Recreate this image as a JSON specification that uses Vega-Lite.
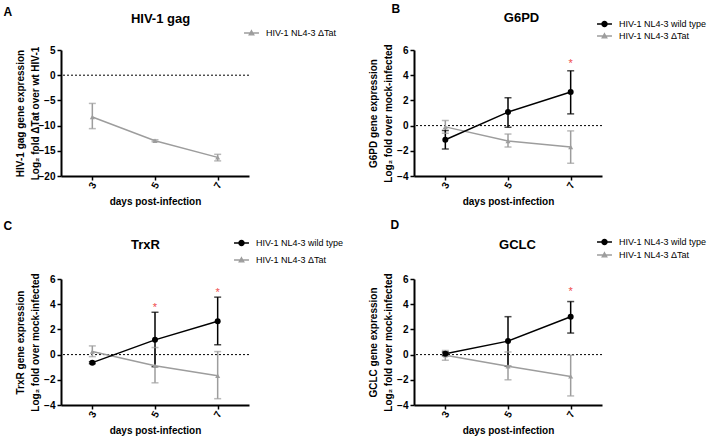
{
  "$schema": "https://vega.github.io/schema/vega-lite/v6.json",
  "background": "white",
  "padding": {"left": 3, "top": 2, "right": 5, "bottom": 5},
  "config": {
    "font": "Liberation Sans",
    "view": {"stroke": null},
    "axis": {"domainColor": "black", "domainWidth": 2, "tickColor": "black", "tickWidth": 1.5, "tickSize": 4, "labelColor": "black", "labelFontWeight": "bold", "labelFontSize": 10, "titleColor": "black", "titleFontWeight": "bold", "titleFontSize": 10, "grid": false},
    "legend": {"labelColor": "black", "labelFontSize": 9}
  },
  "datasets": {
    "d": [
      {"panel": "A", "series": "HIV-1 NL4-3 ΔTat", "day": "3", "mean": -8.3, "lo": -10.6, "hi": -5.6},
      {"panel": "A", "series": "HIV-1 NL4-3 ΔTat", "day": "5", "mean": -13.0, "lo": -13.2, "hi": -12.8},
      {"panel": "A", "series": "HIV-1 NL4-3 ΔTat", "day": "7", "mean": -16.3, "lo": -17.0, "hi": -15.7},
      {"panel": "B", "series": "HIV-1 NL4-3 ΔTat", "day": "3", "mean": -0.1, "lo": -0.6, "hi": 0.4},
      {"panel": "B", "series": "HIV-1 NL4-3 ΔTat", "day": "5", "mean": -1.22, "lo": -1.7, "hi": -0.67},
      {"panel": "B", "series": "HIV-1 NL4-3 ΔTat", "day": "7", "mean": -1.7, "lo": -2.99, "hi": -0.42},
      {"panel": "B", "series": "HIV-1 NL4-3 wild type", "day": "3", "mean": -1.12, "lo": -1.85, "hi": -0.38},
      {"panel": "B", "series": "HIV-1 NL4-3 wild type", "day": "5", "mean": 1.07, "lo": -0.13, "hi": 2.21},
      {"panel": "B", "series": "HIV-1 NL4-3 wild type", "day": "7", "mean": 2.67, "lo": 0.93, "hi": 4.35, "star": 5.15},
      {"panel": "C", "series": "HIV-1 NL4-3 ΔTat", "day": "3", "mean": 0.24, "lo": -0.16, "hi": 0.69},
      {"panel": "C", "series": "HIV-1 NL4-3 ΔTat", "day": "5", "mean": -0.88, "lo": -2.24, "hi": 0.56},
      {"panel": "C", "series": "HIV-1 NL4-3 ΔTat", "day": "7", "mean": -1.68, "lo": -3.5, "hi": 0.24},
      {"panel": "C", "series": "HIV-1 NL4-3 wild type", "day": "3", "mean": -0.64, "lo": -0.72, "hi": -0.56},
      {"panel": "C", "series": "HIV-1 NL4-3 wild type", "day": "5", "mean": 1.17, "lo": -0.96, "hi": 3.36, "star": 3.97},
      {"panel": "C", "series": "HIV-1 NL4-3 wild type", "day": "7", "mean": 2.64, "lo": 0.78, "hi": 4.56, "star": 5.15},
      {"panel": "D", "series": "HIV-1 NL4-3 ΔTat", "day": "3", "mean": -0.05, "lo": -0.45, "hi": 0.32},
      {"panel": "D", "series": "HIV-1 NL4-3 ΔTat", "day": "5", "mean": -0.93, "lo": -2.0, "hi": 0.21},
      {"panel": "D", "series": "HIV-1 NL4-3 ΔTat", "day": "7", "mean": -1.73, "lo": -3.28, "hi": -0.05},
      {"panel": "D", "series": "HIV-1 NL4-3 wild type", "day": "3", "mean": 0.07, "lo": -0.1, "hi": 0.2},
      {"panel": "D", "series": "HIV-1 NL4-3 wild type", "day": "5", "mean": 1.07, "lo": -0.93, "hi": 3.01},
      {"panel": "D", "series": "HIV-1 NL4-3 wild type", "day": "7", "mean": 3.0, "lo": 1.71, "hi": 4.21, "star": 5.2}
    ]
  },
  "columns": 2,
  "spacing": {"row": 103, "column": 165},
  "bounds": "flush",
  "resolve": {"scale": {"fill": "independent", "stroke": "independent", "shape": "independent", "color": "independent"}, "legend": {"fill": "independent", "stroke": "independent", "shape": "independent", "color": "independent"}},
  "concat": [
    {
      "width": 188, "height": 126,
      "data": {"name": "d"},
      "transform": [{"filter": "datum.panel == 'A'"}],
      "resolve": {"axis": {"x": "independent", "y": "independent"}},
      "layer": [
        {"transform": [{"aggregate": [{"op": "count", "as": "n"}]}],
         "mark": {"type": "rule", "color": "black", "strokeWidth": 1, "strokeDash": [2, 2]},
         "encoding": {"y": {"datum": 0, "type": "quantitative", "scale": {"domain": [-20, 5], "nice": false, "zero": false}, "axis": null}}},
        {"mark": {"type": "rule", "strokeWidth": 1.5},
         "encoding": {"x": {"field": "day", "type": "ordinal", "scale": {"type": "point", "padding": 0.5, "domain": ["3", "5", "7"]}, "axis": null},
                      "y": {"field": "lo", "type": "quantitative", "scale": {"domain": [-20, 5], "nice": false, "zero": false}, "axis": null}, "y2": {"field": "hi"},
                      "color": {"condition": {"test": "indexof(datum.series, 'wild') >= 0", "value": "black"}, "value": "#9d9d9d"}}},
        {"mark": {"type": "tick", "size": 7, "thickness": 1.5},
         "encoding": {"x": {"field": "day", "type": "ordinal", "scale": {"type": "point", "padding": 0.5, "domain": ["3", "5", "7"]}, "axis": null},
                      "y": {"field": "lo", "type": "quantitative", "scale": {"domain": [-20, 5], "nice": false, "zero": false}, "axis": null},
                      "color": {"condition": {"test": "indexof(datum.series, 'wild') >= 0", "value": "black"}, "value": "#9d9d9d"}}},
        {"mark": {"type": "tick", "size": 7, "thickness": 1.5},
         "encoding": {"x": {"field": "day", "type": "ordinal", "scale": {"type": "point", "padding": 0.5, "domain": ["3", "5", "7"]}, "axis": null},
                      "y": {"field": "hi", "type": "quantitative", "scale": {"domain": [-20, 5], "nice": false, "zero": false}, "axis": null},
                      "color": {"condition": {"test": "indexof(datum.series, 'wild') >= 0", "value": "black"}, "value": "#9d9d9d"}}},
        {"mark": {"type": "line", "strokeWidth": 1.5},
         "encoding": {"x": {"field": "day", "type": "ordinal", "scale": {"type": "point", "padding": 0.5, "domain": ["3", "5", "7"]},
                            "axis": {"orient": "bottom", "title": "days post-infection", "labelAngle": -60, "labelAlign": "center", "labelBaseline": "middle", "labelPadding": 5, "titleY": 25, "titleBaseline": "middle"}},
                      "y": {"field": "mean", "type": "quantitative", "scale": {"domain": [-20, 5], "nice": false, "zero": false},
                            "axis": {"orient": "left", "values": [-20, -15, -10, -5, 0, 5], "labelPadding": 2, "title": ["HIV-1 gag gene expression", "Log₂ fold ΔTat over wt HIV-1"], "titleX": -36, "titleY": 63, "titleAngle": -90, "titleAlign": "center", "titleBaseline": "bottom", "titleLineHeight": 15}},
                      "detail": {"field": "series"},
                      "color": {"condition": {"test": "indexof(datum.series, 'wild') >= 0", "value": "black"}, "value": "#9d9d9d"}}},
        {"mark": {"type": "point", "filled": true, "opacity": 1},
         "encoding": {"x": {"field": "day", "type": "ordinal", "scale": {"type": "point", "padding": 0.5, "domain": ["3", "5", "7"]}, "axis": null},
                      "y": {"field": "mean", "type": "quantitative", "scale": {"domain": [-20, 5], "nice": false, "zero": false}, "axis": null},
                      "color": {"condition": {"test": "indexof(datum.series, 'wild') >= 0", "value": "black"}, "value": "#9d9d9d"},
                      "shape": {"condition": {"test": "indexof(datum.series, 'wild') >= 0", "value": "circle"}, "value": "triangle-up"},
                      "size": {"condition": {"test": "indexof(datum.series, 'wild') >= 0", "value": 36}, "value": 25}}},
        {"mark": {"type": "point", "opacity": 0},
         "encoding": {"x": {"field": "day", "type": "ordinal", "scale": {"type": "point", "padding": 0.5, "domain": ["3", "5", "7"]},
                            "axis": {"orient": "top", "domain": false, "ticks": false, "labels": false, "title": "HIV-1 gag", "titleX": 99, "titleY": -32, "titleAlign": "center", "titleBaseline": "middle", "titleFontSize": 13}},
                      "y": {"field": "mean", "type": "quantitative", "scale": {"domain": [-20, 5], "nice": false, "zero": false},
                            "axis": {"orient": "right", "domain": false, "ticks": false, "labels": false, "title": "A", "titleAngle": 0, "titleAlign": "left", "titleBaseline": "top", "titleX": -246, "titleY": -44, "titleFontSize": 12}},
                      "fill": {"field": "series", "type": "nominal", "scale": {"domain": ["HIV-1 NL4-3 ΔTat"], "range": ["#9d9d9d"]},
                               "legend": {"orient": "none", "legendX": 184, "legendY": -23.5, "title": null, "symbolSize": 121, "symbolStrokeWidth": 1.3, "symbolOpacity": 1, "padding": 0, "rowPadding": 0, "labelOffset": 8}},
                      "stroke": {"field": "series", "type": "nominal", "scale": {"domain": ["HIV-1 NL4-3 ΔTat"], "range": ["#9d9d9d"]},
                               "legend": {"orient": "none", "legendX": 184, "legendY": -23.5, "title": null, "symbolSize": 121, "symbolStrokeWidth": 1.3, "symbolOpacity": 1, "padding": 0, "rowPadding": 0, "labelOffset": 8}},
                      "shape": {"field": "series", "type": "nominal", "scale": {"domain": ["HIV-1 NL4-3 ΔTat"], "range": ["M-1.36,0H1.36M0,-0.42L0.42,0.34L-0.42,0.34Z"]},
                               "legend": {"orient": "none", "legendX": 184, "legendY": -23.5, "title": null, "symbolSize": 121, "symbolStrokeWidth": 1.3, "symbolOpacity": 1, "padding": 0, "rowPadding": 0, "labelOffset": 8}}}}
      ]
    },
    {
      "width": 188, "height": 126,
      "data": {"name": "d"},
      "transform": [{"filter": "datum.panel == 'B'"}],
      "resolve": {"axis": {"x": "independent", "y": "independent"}},
      "layer": [
        {"transform": [{"aggregate": [{"op": "count", "as": "n"}]}],
         "mark": {"type": "rule", "color": "black", "strokeWidth": 1, "strokeDash": [2, 2]},
         "encoding": {"y": {"datum": 0, "type": "quantitative", "scale": {"domain": [-4, 6], "nice": false, "zero": false}, "axis": null}}},
        {"mark": {"type": "rule", "strokeWidth": 1.5},
         "encoding": {"x": {"field": "day", "type": "ordinal", "scale": {"type": "point", "padding": 0.5, "domain": ["3", "5", "7"]}, "axis": null},
                      "y": {"field": "lo", "type": "quantitative", "scale": {"domain": [-4, 6], "nice": false, "zero": false}, "axis": null}, "y2": {"field": "hi"},
                      "color": {"condition": {"test": "indexof(datum.series, 'wild') >= 0", "value": "black"}, "value": "#9d9d9d"}}},
        {"mark": {"type": "tick", "size": 7, "thickness": 1.5},
         "encoding": {"x": {"field": "day", "type": "ordinal", "scale": {"type": "point", "padding": 0.5, "domain": ["3", "5", "7"]}, "axis": null},
                      "y": {"field": "lo", "type": "quantitative", "scale": {"domain": [-4, 6], "nice": false, "zero": false}, "axis": null},
                      "color": {"condition": {"test": "indexof(datum.series, 'wild') >= 0", "value": "black"}, "value": "#9d9d9d"}}},
        {"mark": {"type": "tick", "size": 7, "thickness": 1.5},
         "encoding": {"x": {"field": "day", "type": "ordinal", "scale": {"type": "point", "padding": 0.5, "domain": ["3", "5", "7"]}, "axis": null},
                      "y": {"field": "hi", "type": "quantitative", "scale": {"domain": [-4, 6], "nice": false, "zero": false}, "axis": null},
                      "color": {"condition": {"test": "indexof(datum.series, 'wild') >= 0", "value": "black"}, "value": "#9d9d9d"}}},
        {"mark": {"type": "line", "strokeWidth": 1.5},
         "encoding": {"x": {"field": "day", "type": "ordinal", "scale": {"type": "point", "padding": 0.5, "domain": ["3", "5", "7"]},
                            "axis": {"orient": "bottom", "title": "days post-infection", "labelAngle": -60, "labelAlign": "center", "labelBaseline": "middle", "labelPadding": 5, "titleY": 25, "titleBaseline": "middle"}},
                      "y": {"field": "mean", "type": "quantitative", "scale": {"domain": [-4, 6], "nice": false, "zero": false},
                            "axis": {"orient": "left", "values": [-4, -2, 0, 2, 4, 6], "labelPadding": 2, "title": ["G6PD gene expression", "Log₂ fold over mock-infected"], "titleX": -36, "titleY": 63, "titleAngle": -90, "titleAlign": "center", "titleBaseline": "bottom", "titleLineHeight": 15}},
                      "detail": {"field": "series"},
                      "color": {"condition": {"test": "indexof(datum.series, 'wild') >= 0", "value": "black"}, "value": "#9d9d9d"}}},
        {"mark": {"type": "point", "filled": true, "opacity": 1},
         "encoding": {"x": {"field": "day", "type": "ordinal", "scale": {"type": "point", "padding": 0.5, "domain": ["3", "5", "7"]}, "axis": null},
                      "y": {"field": "mean", "type": "quantitative", "scale": {"domain": [-4, 6], "nice": false, "zero": false}, "axis": null},
                      "color": {"condition": {"test": "indexof(datum.series, 'wild') >= 0", "value": "black"}, "value": "#9d9d9d"},
                      "shape": {"condition": {"test": "indexof(datum.series, 'wild') >= 0", "value": "circle"}, "value": "triangle-up"},
                      "size": {"condition": {"test": "indexof(datum.series, 'wild') >= 0", "value": 36}, "value": 25}}},
        {"transform": [{"filter": "isValid(datum.star)"}],
         "mark": {"type": "text", "color": "#ef4b4b", "fontSize": 11, "baseline": "alphabetic", "dy": 6},
         "encoding": {"x": {"field": "day", "type": "ordinal", "scale": {"type": "point", "padding": 0.5, "domain": ["3", "5", "7"]}, "axis": null},
                      "y": {"field": "star", "type": "quantitative", "scale": {"domain": [-4, 6], "nice": false, "zero": false}, "axis": null},
                      "text": {"value": "*"}}},
        {"mark": {"type": "point", "opacity": 0},
         "encoding": {"x": {"field": "day", "type": "ordinal", "scale": {"type": "point", "padding": 0.5, "domain": ["3", "5", "7"]},
                            "axis": {"orient": "top", "domain": false, "ticks": false, "labels": false, "title": "G6PD", "titleX": 107, "titleY": -33, "titleAlign": "center", "titleBaseline": "middle", "titleFontSize": 13}},
                      "y": {"field": "mean", "type": "quantitative", "scale": {"domain": [-4, 6], "nice": false, "zero": false},
                            "axis": {"orient": "right", "domain": false, "ticks": false, "labels": false, "title": "B", "titleAngle": 0, "titleAlign": "left", "titleBaseline": "top", "titleX": -211, "titleY": -47, "titleFontSize": 12}},
                      "fill": {"field": "series", "type": "nominal", "scale": {"domain": ["HIV-1 NL4-3 wild type", "HIV-1 NL4-3 ΔTat"], "range": ["black", "#9d9d9d"]},
                               "legend": {"orient": "none", "legendX": 184, "legendY": -32.5, "title": null, "symbolSize": 121, "symbolStrokeWidth": 1.3, "symbolOpacity": 1, "padding": 0, "rowPadding": 0, "labelOffset": 8}},
                      "stroke": {"field": "series", "type": "nominal", "scale": {"domain": ["HIV-1 NL4-3 wild type", "HIV-1 NL4-3 ΔTat"], "range": ["black", "#9d9d9d"]},
                               "legend": {"orient": "none", "legendX": 184, "legendY": -32.5, "title": null, "symbolSize": 121, "symbolStrokeWidth": 1.3, "symbolOpacity": 1, "padding": 0, "rowPadding": 0, "labelOffset": 8}},
                      "shape": {"field": "series", "type": "nominal", "scale": {"domain": ["HIV-1 NL4-3 wild type", "HIV-1 NL4-3 ΔTat"], "range": ["M-1.36,0H1.36M-0.47,0A0.47,0.47,0,1,1,0.47,0A0.47,0.47,0,1,1,-0.47,0Z", "M-1.36,0H1.36M0,-0.42L0.42,0.34L-0.42,0.34Z"]},
                               "legend": {"orient": "none", "legendX": 184, "legendY": -32.5, "title": null, "symbolSize": 121, "symbolStrokeWidth": 1.3, "symbolOpacity": 1, "padding": 0, "rowPadding": 0, "labelOffset": 8}}}}
      ]
    },
    {
      "width": 188, "height": 126,
      "data": {"name": "d"},
      "transform": [{"filter": "datum.panel == 'C'"}],
      "resolve": {"axis": {"x": "independent", "y": "independent"}},
      "layer": [
        {"transform": [{"aggregate": [{"op": "count", "as": "n"}]}],
         "mark": {"type": "rule", "color": "black", "strokeWidth": 1, "strokeDash": [2, 2]},
         "encoding": {"y": {"datum": 0, "type": "quantitative", "scale": {"domain": [-4, 6], "nice": false, "zero": false}, "axis": null}}},
        {"mark": {"type": "rule", "strokeWidth": 1.5},
         "encoding": {"x": {"field": "day", "type": "ordinal", "scale": {"type": "point", "padding": 0.5, "domain": ["3", "5", "7"]}, "axis": null},
                      "y": {"field": "lo", "type": "quantitative", "scale": {"domain": [-4, 6], "nice": false, "zero": false}, "axis": null}, "y2": {"field": "hi"},
                      "color": {"condition": {"test": "indexof(datum.series, 'wild') >= 0", "value": "black"}, "value": "#9d9d9d"}}},
        {"mark": {"type": "tick", "size": 7, "thickness": 1.5},
         "encoding": {"x": {"field": "day", "type": "ordinal", "scale": {"type": "point", "padding": 0.5, "domain": ["3", "5", "7"]}, "axis": null},
                      "y": {"field": "lo", "type": "quantitative", "scale": {"domain": [-4, 6], "nice": false, "zero": false}, "axis": null},
                      "color": {"condition": {"test": "indexof(datum.series, 'wild') >= 0", "value": "black"}, "value": "#9d9d9d"}}},
        {"mark": {"type": "tick", "size": 7, "thickness": 1.5},
         "encoding": {"x": {"field": "day", "type": "ordinal", "scale": {"type": "point", "padding": 0.5, "domain": ["3", "5", "7"]}, "axis": null},
                      "y": {"field": "hi", "type": "quantitative", "scale": {"domain": [-4, 6], "nice": false, "zero": false}, "axis": null},
                      "color": {"condition": {"test": "indexof(datum.series, 'wild') >= 0", "value": "black"}, "value": "#9d9d9d"}}},
        {"mark": {"type": "line", "strokeWidth": 1.5},
         "encoding": {"x": {"field": "day", "type": "ordinal", "scale": {"type": "point", "padding": 0.5, "domain": ["3", "5", "7"]},
                            "axis": {"orient": "bottom", "title": "days post-infection", "labelAngle": -60, "labelAlign": "center", "labelBaseline": "middle", "labelPadding": 5, "titleY": 25, "titleBaseline": "middle"}},
                      "y": {"field": "mean", "type": "quantitative", "scale": {"domain": [-4, 6], "nice": false, "zero": false},
                            "axis": {"orient": "left", "values": [-4, -2, 0, 2, 4, 6], "labelPadding": 2, "title": ["TrxR gene expression", "Log₂ fold over mock-infected"], "titleX": -36, "titleY": 63, "titleAngle": -90, "titleAlign": "center", "titleBaseline": "bottom", "titleLineHeight": 15}},
                      "detail": {"field": "series"},
                      "color": {"condition": {"test": "indexof(datum.series, 'wild') >= 0", "value": "black"}, "value": "#9d9d9d"}}},
        {"mark": {"type": "point", "filled": true, "opacity": 1},
         "encoding": {"x": {"field": "day", "type": "ordinal", "scale": {"type": "point", "padding": 0.5, "domain": ["3", "5", "7"]}, "axis": null},
                      "y": {"field": "mean", "type": "quantitative", "scale": {"domain": [-4, 6], "nice": false, "zero": false}, "axis": null},
                      "color": {"condition": {"test": "indexof(datum.series, 'wild') >= 0", "value": "black"}, "value": "#9d9d9d"},
                      "shape": {"condition": {"test": "indexof(datum.series, 'wild') >= 0", "value": "circle"}, "value": "triangle-up"},
                      "size": {"condition": {"test": "indexof(datum.series, 'wild') >= 0", "value": 36}, "value": 25}}},
        {"transform": [{"filter": "isValid(datum.star)"}],
         "mark": {"type": "text", "color": "#ef4b4b", "fontSize": 11, "baseline": "alphabetic", "dy": 6},
         "encoding": {"x": {"field": "day", "type": "ordinal", "scale": {"type": "point", "padding": 0.5, "domain": ["3", "5", "7"]}, "axis": null},
                      "y": {"field": "star", "type": "quantitative", "scale": {"domain": [-4, 6], "nice": false, "zero": false}, "axis": null},
                      "text": {"value": "*"}}},
        {"mark": {"type": "point", "opacity": 0},
         "encoding": {"x": {"field": "day", "type": "ordinal", "scale": {"type": "point", "padding": 0.5, "domain": ["3", "5", "7"]},
                            "axis": {"orient": "top", "domain": false, "ticks": false, "labels": false, "title": "TrxR", "titleX": 84, "titleY": -35, "titleAlign": "center", "titleBaseline": "middle", "titleFontSize": 13}},
                      "y": {"field": "mean", "type": "quantitative", "scale": {"domain": [-4, 6], "nice": false, "zero": false},
                            "axis": {"orient": "right", "domain": false, "ticks": false, "labels": false, "title": "C", "titleAngle": 0, "titleAlign": "left", "titleBaseline": "top", "titleX": -246, "titleY": -59, "titleFontSize": 12}},
                      "fill": {"field": "series", "type": "nominal", "scale": {"domain": ["HIV-1 NL4-3 wild type", "HIV-1 NL4-3 ΔTat"], "range": ["black", "#9d9d9d"]},
                               "legend": {"orient": "none", "legendX": 174, "legendY": -42.5, "title": null, "symbolSize": 121, "symbolStrokeWidth": 1.3, "symbolOpacity": 1, "padding": 0, "rowPadding": 5, "labelOffset": 8}},
                      "stroke": {"field": "series", "type": "nominal", "scale": {"domain": ["HIV-1 NL4-3 wild type", "HIV-1 NL4-3 ΔTat"], "range": ["black", "#9d9d9d"]},
                               "legend": {"orient": "none", "legendX": 174, "legendY": -42.5, "title": null, "symbolSize": 121, "symbolStrokeWidth": 1.3, "symbolOpacity": 1, "padding": 0, "rowPadding": 5, "labelOffset": 8}},
                      "shape": {"field": "series", "type": "nominal", "scale": {"domain": ["HIV-1 NL4-3 wild type", "HIV-1 NL4-3 ΔTat"], "range": ["M-1.36,0H1.36M-0.47,0A0.47,0.47,0,1,1,0.47,0A0.47,0.47,0,1,1,-0.47,0Z", "M-1.36,0H1.36M0,-0.42L0.42,0.34L-0.42,0.34Z"]},
                               "legend": {"orient": "none", "legendX": 174, "legendY": -42.5, "title": null, "symbolSize": 121, "symbolStrokeWidth": 1.3, "symbolOpacity": 1, "padding": 0, "rowPadding": 5, "labelOffset": 8}}}}
      ]
    },
    {
      "width": 188, "height": 126,
      "data": {"name": "d"},
      "transform": [{"filter": "datum.panel == 'D'"}],
      "resolve": {"axis": {"x": "independent", "y": "independent"}},
      "layer": [
        {"transform": [{"aggregate": [{"op": "count", "as": "n"}]}],
         "mark": {"type": "rule", "color": "black", "strokeWidth": 1, "strokeDash": [2, 2]},
         "encoding": {"y": {"datum": 0, "type": "quantitative", "scale": {"domain": [-4, 6], "nice": false, "zero": false}, "axis": null}}},
        {"mark": {"type": "rule", "strokeWidth": 1.5},
         "encoding": {"x": {"field": "day", "type": "ordinal", "scale": {"type": "point", "padding": 0.5, "domain": ["3", "5", "7"]}, "axis": null},
                      "y": {"field": "lo", "type": "quantitative", "scale": {"domain": [-4, 6], "nice": false, "zero": false}, "axis": null}, "y2": {"field": "hi"},
                      "color": {"condition": {"test": "indexof(datum.series, 'wild') >= 0", "value": "black"}, "value": "#9d9d9d"}}},
        {"mark": {"type": "tick", "size": 7, "thickness": 1.5},
         "encoding": {"x": {"field": "day", "type": "ordinal", "scale": {"type": "point", "padding": 0.5, "domain": ["3", "5", "7"]}, "axis": null},
                      "y": {"field": "lo", "type": "quantitative", "scale": {"domain": [-4, 6], "nice": false, "zero": false}, "axis": null},
                      "color": {"condition": {"test": "indexof(datum.series, 'wild') >= 0", "value": "black"}, "value": "#9d9d9d"}}},
        {"mark": {"type": "tick", "size": 7, "thickness": 1.5},
         "encoding": {"x": {"field": "day", "type": "ordinal", "scale": {"type": "point", "padding": 0.5, "domain": ["3", "5", "7"]}, "axis": null},
                      "y": {"field": "hi", "type": "quantitative", "scale": {"domain": [-4, 6], "nice": false, "zero": false}, "axis": null},
                      "color": {"condition": {"test": "indexof(datum.series, 'wild') >= 0", "value": "black"}, "value": "#9d9d9d"}}},
        {"mark": {"type": "line", "strokeWidth": 1.5},
         "encoding": {"x": {"field": "day", "type": "ordinal", "scale": {"type": "point", "padding": 0.5, "domain": ["3", "5", "7"]},
                            "axis": {"orient": "bottom", "title": "days post-infection", "labelAngle": -60, "labelAlign": "center", "labelBaseline": "middle", "labelPadding": 5, "titleY": 25, "titleBaseline": "middle"}},
                      "y": {"field": "mean", "type": "quantitative", "scale": {"domain": [-4, 6], "nice": false, "zero": false},
                            "axis": {"orient": "left", "values": [-4, -2, 0, 2, 4, 6], "labelPadding": 2, "title": ["GCLC gene expression", "Log₂ fold over mock-infected"], "titleX": -36, "titleY": 63, "titleAngle": -90, "titleAlign": "center", "titleBaseline": "bottom", "titleLineHeight": 15}},
                      "detail": {"field": "series"},
                      "color": {"condition": {"test": "indexof(datum.series, 'wild') >= 0", "value": "black"}, "value": "#9d9d9d"}}},
        {"mark": {"type": "point", "filled": true, "opacity": 1},
         "encoding": {"x": {"field": "day", "type": "ordinal", "scale": {"type": "point", "padding": 0.5, "domain": ["3", "5", "7"]}, "axis": null},
                      "y": {"field": "mean", "type": "quantitative", "scale": {"domain": [-4, 6], "nice": false, "zero": false}, "axis": null},
                      "color": {"condition": {"test": "indexof(datum.series, 'wild') >= 0", "value": "black"}, "value": "#9d9d9d"},
                      "shape": {"condition": {"test": "indexof(datum.series, 'wild') >= 0", "value": "circle"}, "value": "triangle-up"},
                      "size": {"condition": {"test": "indexof(datum.series, 'wild') >= 0", "value": 36}, "value": 25}}},
        {"transform": [{"filter": "isValid(datum.star)"}],
         "mark": {"type": "text", "color": "#ef4b4b", "fontSize": 11, "baseline": "alphabetic", "dy": 6},
         "encoding": {"x": {"field": "day", "type": "ordinal", "scale": {"type": "point", "padding": 0.5, "domain": ["3", "5", "7"]}, "axis": null},
                      "y": {"field": "star", "type": "quantitative", "scale": {"domain": [-4, 6], "nice": false, "zero": false}, "axis": null},
                      "text": {"value": "*"}}},
        {"mark": {"type": "point", "opacity": 0},
         "encoding": {"x": {"field": "day", "type": "ordinal", "scale": {"type": "point", "padding": 0.5, "domain": ["3", "5", "7"]},
                            "axis": {"orient": "top", "domain": false, "ticks": false, "labels": false, "title": "GCLC", "titleX": 103, "titleY": -35, "titleAlign": "center", "titleBaseline": "middle", "titleFontSize": 13}},
                      "y": {"field": "mean", "type": "quantitative", "scale": {"domain": [-4, 6], "nice": false, "zero": false},
                            "axis": {"orient": "right", "domain": false, "ticks": false, "labels": false, "title": "D", "titleAngle": 0, "titleAlign": "left", "titleBaseline": "top", "titleX": -212, "titleY": -60, "titleFontSize": 12}},
                      "fill": {"field": "series", "type": "nominal", "scale": {"domain": ["HIV-1 NL4-3 wild type", "HIV-1 NL4-3 ΔTat"], "range": ["black", "#9d9d9d"]},
                               "legend": {"orient": "none", "legendX": 184, "legendY": -43.5, "title": null, "symbolSize": 121, "symbolStrokeWidth": 1.3, "symbolOpacity": 1, "padding": 0, "rowPadding": 1, "labelOffset": 8}},
                      "stroke": {"field": "series", "type": "nominal", "scale": {"domain": ["HIV-1 NL4-3 wild type", "HIV-1 NL4-3 ΔTat"], "range": ["black", "#9d9d9d"]},
                               "legend": {"orient": "none", "legendX": 184, "legendY": -43.5, "title": null, "symbolSize": 121, "symbolStrokeWidth": 1.3, "symbolOpacity": 1, "padding": 0, "rowPadding": 1, "labelOffset": 8}},
                      "shape": {"field": "series", "type": "nominal", "scale": {"domain": ["HIV-1 NL4-3 wild type", "HIV-1 NL4-3 ΔTat"], "range": ["M-1.36,0H1.36M-0.47,0A0.47,0.47,0,1,1,0.47,0A0.47,0.47,0,1,1,-0.47,0Z", "M-1.36,0H1.36M0,-0.42L0.42,0.34L-0.42,0.34Z"]},
                               "legend": {"orient": "none", "legendX": 184, "legendY": -43.5, "title": null, "symbolSize": 121, "symbolStrokeWidth": 1.3, "symbolOpacity": 1, "padding": 0, "rowPadding": 1, "labelOffset": 8}}}}
      ]
    }
  ]
}
